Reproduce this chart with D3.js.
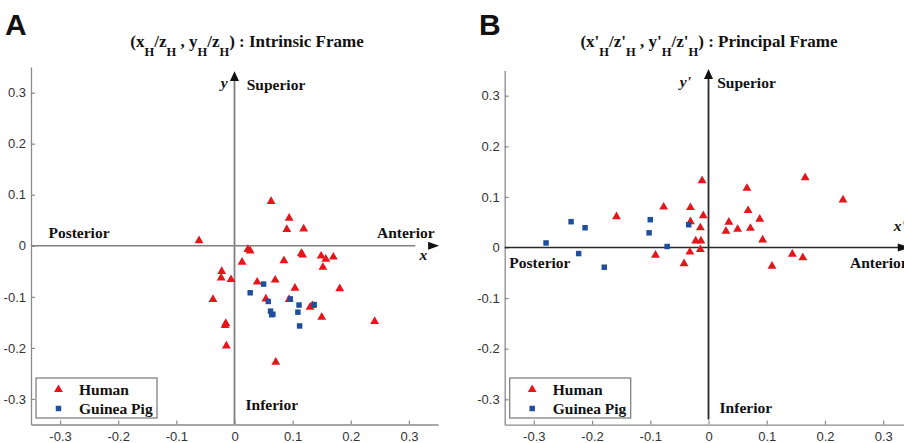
<!DOCTYPE html>
<html><head><meta charset="utf-8">
<script src="https://cdn.jsdelivr.net/npm/d3@7"></script>
<style>
body{margin:0;background:#fff;}
svg{display:block;}
</style></head>
<body><svg id="c" width="904" height="443"></svg>
<script>
// ---- data ----
const tickValues = [-0.3,-0.2,-0.1,0,0.1,0.2,0.3];
const tickLabels = ["-0.3","-0.2","-0.1","0","0.1","0.2","0.3"];
const seriesNames = ["Human","Guinea Pig"];

const humanA_x = [0.063,0.094,0.090,0.119,-0.061,0.023,0.027,0.013,0.085,0.115,0.117,0.149,0.157,0.170,0.152,-0.022,-0.023,-0.006,0.039,0.070,0.104,0.181,-0.037,0.054,0.094,0.130,0.134,0.150,0.241,-0.015,-0.016,-0.014,0.071];
const humanA_y = [0.087,0.054,0.032,0.033,0.010,-0.007,-0.010,-0.032,-0.029,-0.015,-0.018,-0.020,-0.026,-0.022,-0.042,-0.050,-0.063,-0.066,-0.071,-0.067,-0.083,-0.084,-0.105,-0.104,-0.105,-0.120,-0.117,-0.140,-0.148,-0.152,-0.156,-0.196,-0.228];
const guineaA_x = [0.027,0.050,0.058,0.062,0.064,0.066,0.096,0.111,0.109,0.112,0.137];
const guineaA_y = [-0.092,-0.075,-0.109,-0.128,-0.135,-0.134,-0.104,-0.116,-0.130,-0.157,-0.115];

const humanB_x = [-0.158,-0.077,-0.031,-0.031,-0.091,-0.042,-0.032,-0.011,-0.009,-0.014,-0.022,-0.013,-0.014,0.066,0.068,0.035,0.030,0.050,0.072,0.088,0.093,0.166,0.231,0.144,0.162,0.109];
const humanB_y = [0.061,0.080,0.079,0.051,-0.015,-0.032,-0.009,0.132,0.063,0.039,0.013,0.013,-0.004,0.117,0.073,0.050,0.032,0.036,0.038,0.056,0.015,0.138,0.094,-0.013,-0.020,-0.037];
const guineaB_x = [-0.279,-0.236,-0.212,-0.223,-0.179,-0.100,-0.102,-0.071,-0.034];
const guineaB_y = [0.009,0.051,0.039,-0.012,-0.039,0.055,0.029,0.002,0.045];

const zip = (xs, ys) => xs.map((v,i)=>[v, ys[i]]);

// ---- style ----
const RED = "#e8141c", BLUE = "#1f4e9c";
const serif = "'Liberation Serif','Times New Roman',serif";
const sans = "'Liberation Sans',Arial,sans-serif";

const svg = d3.select("#c");

const panels = [
  {
    letter:"A", letterX:5,
    xr:[31,438], yr:[424.5,67.1],
    title:[["(x",0],["H",1],["/z",0],["H",1],[" , y",0],["H",1],["/z",0],["H",1],[") : Intrinsic Frame",0]],
    titleX:247,
    human: zip(humanA_x, humanA_y), guinea: zip(guineaA_x, guineaA_y),
    lineColor:"#808080",
    hLine:[-0.35,0.311], hArrow:[0.333,0.352],
    vLine:[-0.35,0.323], vArrow:[0.323,0.342],
    yLab:"y", xLab:"x",
    xLabPos:[0.318,-0.028], yLabPos:[-0.012,0.31],
    postPos:[-0.32,0.015], antPos:[0.245,0.015],
    supPos:[0.021,0.305], infPos:[0.019,-0.322]
  },
  {
    letter:"B", letterX:479,
    xr:[504.7,912.3], yr:[424.6,70.4],
    title:[["(x'",0],["H",1],["/z'",0],["H",1],[" , y'",0],["H",1],["/z'",0],["H",1],[") : Principal Frame",0]],
    titleX:709,
    human: zip(humanB_x, humanB_y), guinea: zip(guineaB_x, guineaB_y),
    lineColor:"#2a2a2a",
    hLine:[-0.35,0.33], hArrow:[0.325,0.346],
    vLine:[-0.34,0.333], vArrow:[0.333,0.353],
    yLab:"y'", xLab:"x'",
    xLabPos:[0.318,0.033], yLabPos:[-0.03,0.318],
    postPos:[-0.342,-0.04], antPos:[0.243,-0.04],
    supPos:[0.015,0.316], infPos:[0.019,-0.327]
  }
];

panels.forEach(p => {
  const x = d3.scaleLinear().domain([-0.35,0.35]).range(p.xr);
  const y = d3.scaleLinear().domain([-0.35,0.35]).range(p.yr);
  const g = svg.append("g");

  // panel letter
  g.append("text").attr("x", p.letterX).attr("y", 35)
    .attr("font-family", sans).attr("font-weight","bold").attr("font-size", 30)
    .attr("fill","#111").text(p.letter);

  // title
  const t = g.append("text").attr("x", p.titleX).attr("y", 47)
    .attr("text-anchor","middle").attr("font-family", serif)
    .attr("font-weight","bold").attr("font-size",17).attr("fill","#111");
  let shifted = false;
  p.title.forEach(([s, sub]) => {
    const ts = t.append("tspan").text(s);
    if (sub) { ts.attr("font-size",12.5).attr("dy", shifted ? 0 : 9); shifted = true; }
    else { if (shifted) ts.attr("dy", -9); shifted = false; }
  });

  // axes
  const fmt = d => tickLabels[tickValues.findIndex(v => Math.abs(v-d)<1e-9)];
  const ax = g.append("g").attr("transform", `translate(0,${p.yr[0]})`)
    .call(d3.axisBottom(x).tickValues(tickValues).tickFormat(fmt).tickSizeInner(-4).tickSizeOuter(0).tickPadding(7));
  const ay = g.append("g").attr("transform", `translate(${p.xr[0]},0)`)
    .call(d3.axisLeft(y).tickValues(tickValues).tickFormat(fmt).tickSizeInner(-4).tickSizeOuter(0).tickPadding(5));
  [ax, ay].forEach(a => {
    a.select(".domain").attr("stroke","#8a8a8a").attr("stroke-width",1.3);
    a.selectAll(".tick line").attr("stroke","#8a8a8a").attr("stroke-width",1.2);
    a.selectAll(".tick text").attr("font-family", sans).attr("font-size",13).attr("fill","#333");
  });

  // central axes
  g.append("line").attr("x1", x(p.hLine[0])).attr("x2", x(p.hLine[1]))
    .attr("y1", y(0)).attr("y2", y(0)).attr("stroke", p.lineColor).attr("stroke-width",1.6);
  g.append("line").attr("x1", x(0)).attr("x2", x(0))
    .attr("y1", y(p.vLine[0])).attr("y2", y(p.vLine[1])).attr("stroke", p.lineColor).attr("stroke-width",1.8);
  // arrowheads
  const hx0 = x(p.hArrow[0]), hx1 = x(p.hArrow[1]), hy = y(0);
  g.append("path").attr("d", `M${hx0},${hy-4}L${hx1},${hy}L${hx0},${hy+4}Z`).attr("fill","#111");
  const vy0 = y(p.vArrow[0]), vy1 = y(p.vArrow[1]), vx = x(0);
  g.append("path").attr("d", `M${vx-4.5},${vy0}L${vx},${vy1}L${vx+4.5},${vy0}Z`).attr("fill","#111");

  // direction labels
  const lab = (pos, s, italic) => g.append("text").attr("x", x(pos[0])).attr("y", y(pos[1]))
    .attr("font-family", serif).attr("font-weight","bold").attr("font-size",15.5)
    .attr("font-style", italic ? "italic" : "normal").attr("fill","#111").text(s);
  lab(p.supPos, "Superior");
  lab(p.infPos, "Inferior");
  lab(p.postPos, "Posterior");
  lab(p.antPos, "Anterior");
  lab(p.xLabPos, p.xLab, true);
  lab(p.yLabPos, p.yLab, true).attr("text-anchor","end");

  // markers
  const tri = d3.symbol().type(d3.symbolTriangle).size(34);
  const sq = d3.symbol().type(d3.symbolSquare).size(30);
  g.append("g").selectAll("path").data(p.human).join("path")
    .attr("d", tri).attr("transform", d => `translate(${x(d[0])},${y(d[1])})`).attr("fill", RED);
  g.append("g").selectAll("path").data(p.guinea).join("path")
    .attr("d", sq).attr("transform", d => `translate(${x(d[0])},${y(d[1])})`).attr("fill", BLUE);

  // legend
  const lx = p.xr[0] + 5, ly = 378;
  const lg = g.append("g").attr("transform", `translate(${lx},${ly})`);
  lg.append("rect").attr("width",121).attr("height",40).attr("fill","#fff")
    .attr("stroke","#777").attr("stroke-width",1.2);
  seriesNames.forEach((name, i) => {
    lg.append("path").attr("d", i === 0 ? tri : sq)
      .attr("transform", `translate(22.5,${11.5 + i*19})`).attr("fill", i === 0 ? RED : BLUE);
    lg.append("text").attr("x", 43).attr("y", 17 + i*19)
      .attr("font-family", serif).attr("font-weight","bold").attr("font-size",15.5)
      .attr("fill","#111").text(name);
  });
});
</script></body></html>
